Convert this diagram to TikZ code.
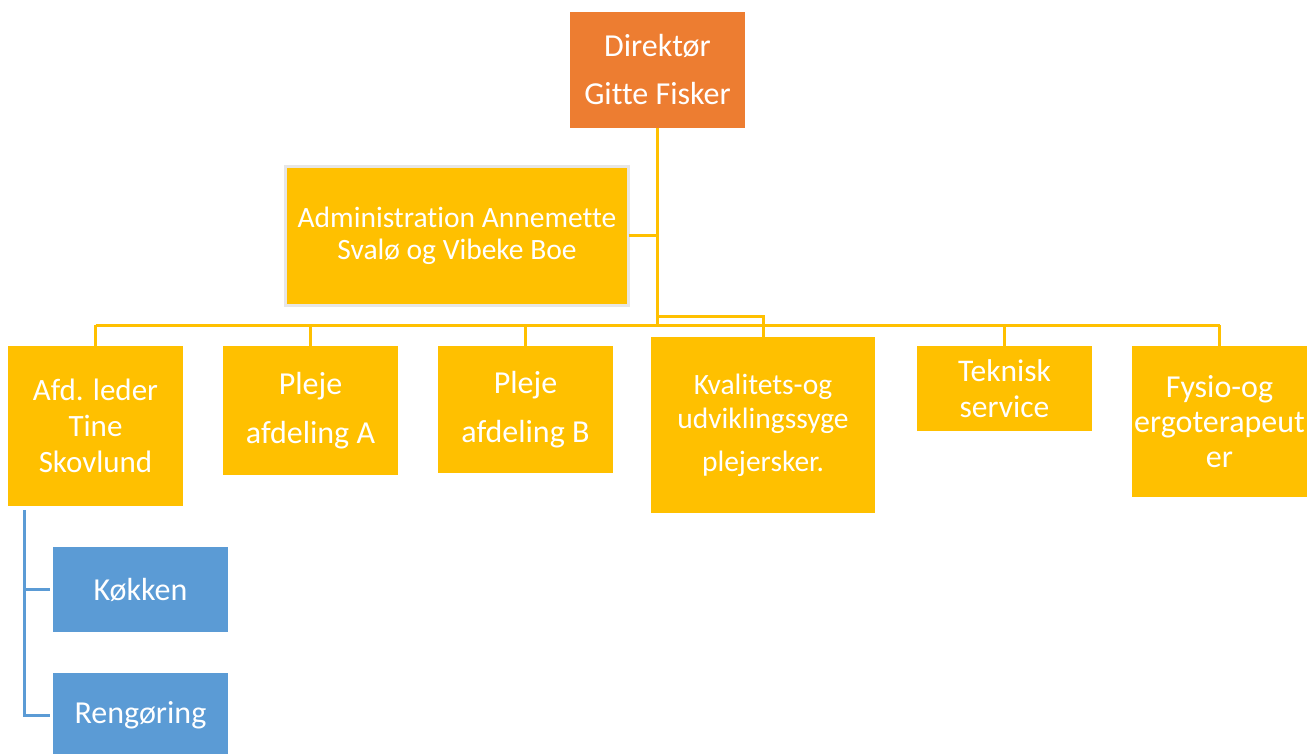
\documentclass[tikz,border=0pt]{standalone}
\usepackage{fontspec}
\setmainfont{Carlito}[Ligatures=NoCommon]
\usepackage{tikz}
\usetikzlibrary{calc}
\usepackage{xcolor}
\definecolor{org_orange}{HTML}{ED7D31}
\definecolor{org_yellow}{HTML}{FFC000}
\definecolor{org_blue}{HTML}{5B9BD5}
\definecolor{org_grey}{HTML}{E7E6E6}

\tikzset{
	orgbox/.style={inner sep=0pt, outer sep=0pt, text=white, align=center},
	unitbox/.style={orgbox, fill=org_yellow, minimum width=175pt},
	subbox/.style={orgbox, fill=org_blue, minimum width=175pt, minimum height=85pt, font=\fontsize{32}{36}\selectfont},
	link/.style={draw=org_yellow, line width=3pt},
	sublink/.style={draw=org_blue, line width=3pt}
}

\begin{document}
\begin{tikzpicture}[x=1pt, y=-1pt]
	\useasboundingbox (0, 0) rectangle (1309, 754);
	\node[orgbox, fill=org_orange, minimum width=175pt, minimum height=116pt, font=\fontsize{32}{48}\selectfont] (dir) at (657.5, 70) {Direktør\\Gitte Fisker};
	\node[orgbox, fill=org_yellow, draw=org_grey, line width=3pt, minimum width=343pt, minimum height=138pt, font=\fontsize{29.5}{32}\selectfont] (admin) at (457, 236) {Administration Annemette\\Svalø og Vibeke Boe};
	\node[unitbox, minimum height=160pt, font=\fontsize{31}{36}\selectfont] (afd) at (95.5, 426) {Afd. leder\\Tine\\Skovlund};
	\node[unitbox, minimum height=129pt, font=\fontsize{32}{49}\selectfont] (plejeA) at (310.5, 410.5) {Pleje\\afdeling A};
	\node[unitbox, minimum height=127pt, font=\fontsize{32}{49}\selectfont] (plejeB) at (525.5, 409.5) {Pleje\\afdeling B};
	\node[unitbox, minimum width=224pt, minimum height=176pt, font=\fontsize{29.5}{34}\selectfont] (kval) at (763, 425) {Kvalitets-og\\udviklingssyge\\[9pt]plejersker.};
	\node[unitbox, minimum height=85pt, font=\fontsize{31.5}{36}\selectfont] (tek) at (1004.5, 388.5) {Teknisk\\service};
	\node[unitbox, minimum height=151pt, font=\fontsize{32}{35}\selectfont] (fysio) at (1219.5, 421.5) {Fysio-og\\ergoterapeut\\er};
	\node[subbox] (kok) at (140.5, 589.5) {Køkken};
	\node[subbox] (reng) at (140.5, 715.5) {Rengøring};
	% connectors
	\coordinate (bus) at ($(dir.south) + (0, 197)$);
	\coordinate (kvalbend) at ($(dir.south) + (0, 188)$);
	\draw[link] (dir.south) -- (bus);
	\draw[link] (admin.east) -- (admin.east -| dir.south);
	\draw[link] (afd.north |- bus) -- (fysio.north |- bus);
	\foreach \n in {afd, plejeA, plejeB, tek, fysio}
		\draw[link] (\n.north |- bus) -- (\n.north);
	\draw[link] (kvalbend) -| (kval.north);
	\coordinate (subtop) at ($(afd.south west) + (16, 4)$);
	\draw[sublink] (subtop) |- ($(kok.west) + (-3, 0)$);
	\draw[sublink] (subtop) |- ($(reng.west) + (-3, 0)$);
\end{tikzpicture}
\end{document}
